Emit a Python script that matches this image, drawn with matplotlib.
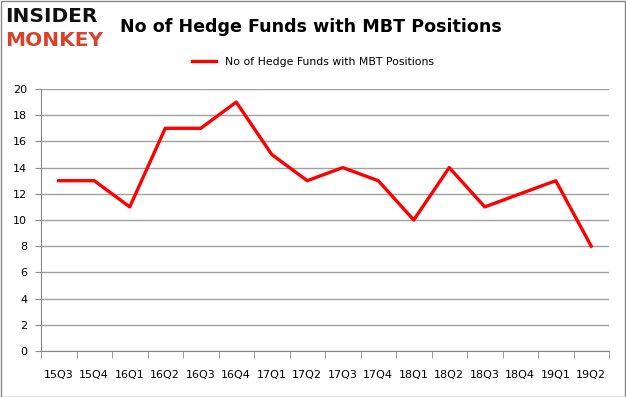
import matplotlib
matplotlib.use("Agg")
import matplotlib.pyplot as plt
from matplotlib.patches import Rectangle

quarters = ["15Q3", "15Q4", "16Q1", "16Q2", "16Q3", "16Q4", "17Q1", "17Q2",
            "17Q3", "17Q4", "18Q1", "18Q2", "18Q3", "18Q4", "19Q1", "19Q2"]
funds = [13, 13, 11, 17, 17, 19, 15, 13, 14, 13, 10, 14, 11, 12, 13, 8]
yticks = list(range(0, 21, 2))

W, H = 626, 397
fig = plt.figure(figsize=(W / 100, H / 100), dpi=100)
ax = fig.add_axes([41 / W, 1 - 351 / H, (609 - 41) / W, (351 - 89) / H])

x = list(range(len(quarters)))
ax.plot(x, funds, color="#ff0000", linewidth=2.4, label="No of Hedge Funds with MBT Positions")

ax.set_xlim(-0.5, len(quarters) - 0.5)
ax.set_ylim(0, 20)
ax.set_yticks(yticks)
ax.set_yticklabels([str(v) for v in yticks], fontsize=8)
ax.set_xticks(x)
ax.set_xticklabels(quarters, fontsize=8)
ax.tick_params(axis="x", length=0, pad=14)
ax.set_xticks([i - 0.5 for i in range(len(quarters) + 1)], minor=True)
ax.tick_params(axis="x", which="minor", length=5, color="#888888")
ax.tick_params(axis="y", length=4, color="#888888", pad=6)
ax.grid(axis="y", color="#a0a0a0", linewidth=1)
ax.set_axisbelow(True)
for s in ["top", "right"]:
    ax.spines[s].set_visible(False)
ax.spines["left"].set_color("#888888")
ax.spines["bottom"].set_color("#888888")

fig.text(311 / W, 1 - 27 / H, "No of Hedge Funds with MBT Positions",
         ha="center", va="center", fontsize=12.6, fontweight="bold")
leg = fig.legend(loc="center", bbox_to_anchor=(313 / W, 1 - 62 / H), frameon=False,
                 fontsize=7.8, handlelength=2.2)

fig.text(5 / W, 1 - 17 / H, "INSIDER", ha="left", va="center", fontsize=14.5,
         fontweight="heavy", color="#111111", family="DejaVu Sans")
fig.text(5 / W, 1 - 40 / H, "MONKEY", ha="left", va="center", fontsize=14.5,
         fontweight="heavy", color="#d9412b", family="DejaVu Sans")

fig.patches.append(Rectangle((0.5 / W, 0.5 / H), (W - 1.5) / W, (H - 1.5) / H,
                             transform=fig.transFigure, fill=False,
                             edgecolor="#888888", linewidth=1))
fig.savefig("out.png", dpi=100)
